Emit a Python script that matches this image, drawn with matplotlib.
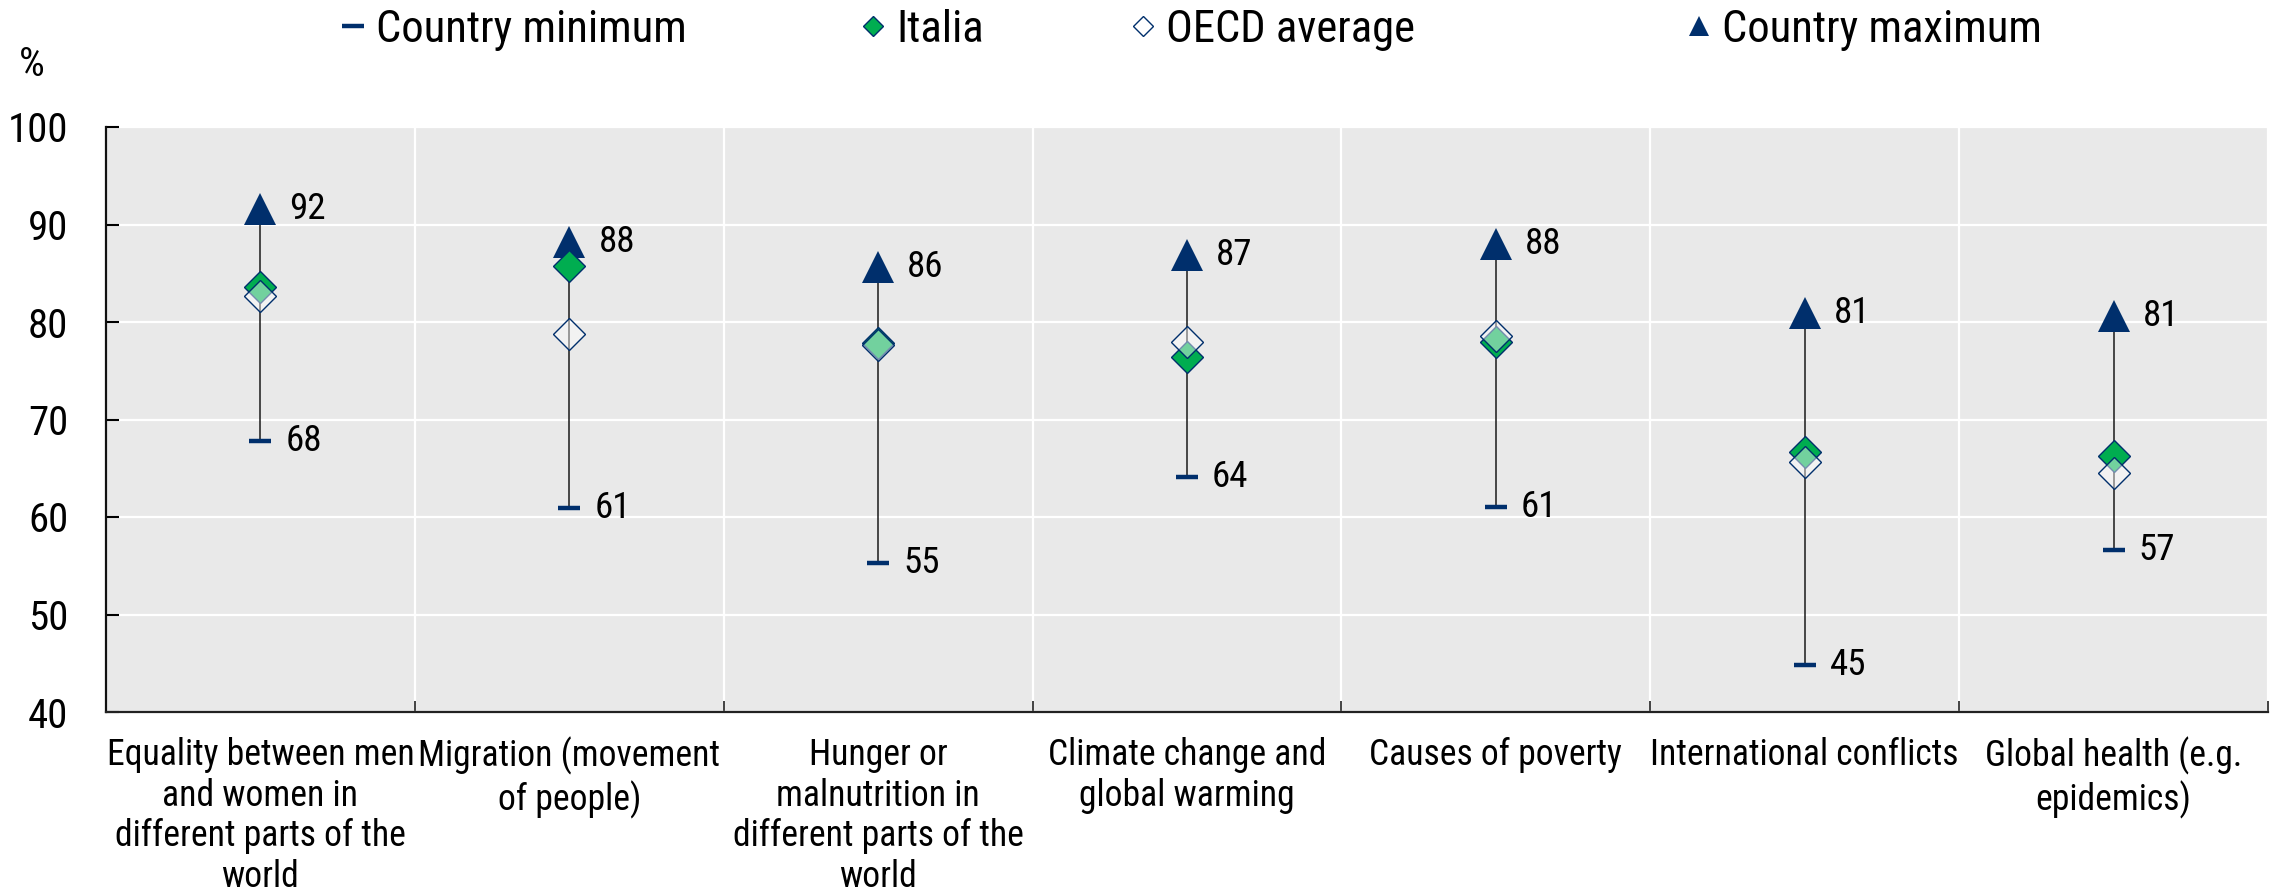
import matplotlib
matplotlib.use("Agg")
import matplotlib.pyplot as plt
from matplotlib import font_manager as fm
from matplotlib.font_manager import FontProperties
from matplotlib.textpath import TextPath
import numpy as np

# ---- data ----
categories = [
    "Equality between men\nand women in\ndifferent parts of the\nworld",
    "Migration (movement\nof people)",
    "Hunger or\nmalnutrition in\ndifferent parts of the\nworld",
    "Climate change and\nglobal warming",
    "Causes of poverty",
    "International conflicts",
    "Global health (e.g.\nepidemics)",
]
country_min = [67.8, 60.9, 55.3, 64.1, 61.0, 44.8, 56.6]
italia = [83.6, 85.7, 77.8, 76.4, 78.0, 66.7, 66.3]
oecd_avg = [82.7, 78.8, 77.6, 78.0, 78.6, 65.6, 64.5]
country_max = [91.6, 88.2, 85.6, 86.9, 88.0, 80.9, 80.6]
yticks = [40, 50, 60, 70, 80, 90, 100]

# ---- font: pick a narrow sans, size texts so widths match the reference ----
names = {f.name for f in fm.fontManager.ttflist}
FONT = "Liberation Sans"
for cand in ["Liberation Sans Narrow", "Arial Narrow", "Roboto Condensed",
             "Archivo Narrow", "PT Sans Narrow", "Fira Sans Condensed"]:
    if cand in names:
        FONT = cand
        break
plt.rcParams["font.family"] = [FONT, "DejaVu Sans"]
FP = FontProperties(family=FONT)


def size_for(text, target_px):
    w = TextPath((0, 0), text, size=100, prop=FP).get_extents().width  # points at 100pt
    return 100 * target_px * 0.72 / w


FS_LEG = size_for("Country minimum", 305)
FS_TICK = size_for("100", 55)
FS_CAT = size_for("Equality between men", 302)
FS_LAB = size_for("68", 32)
l_h = TextPath((0, 0), "l", size=100, prop=FP).get_extents().ymax  # points at 100pt
l_h_px = l_h / 100 * FS_CAT / 0.72
CAT_LS = 0.74 * 42 / l_h_px

NAVY = "#002F6C"
GREEN = "#00AD50"
BG = "#E9E9E9"

W, H = 2277, 891
fig = plt.figure(figsize=(W / 100, H / 100), dpi=100)
ax = fig.add_axes([106 / W, 1 - 712 / H, (2268 - 106) / W, (712 - 127) / H])
ax.set_facecolor(BG)

x = np.arange(len(categories))

# vertical range lines
ax.vlines(x, country_min, country_max, color="#1a1a1a", lw=1.1, zorder=3)

l_min, = ax.plot(x, country_min, ls="none", marker="_", ms=16.5, mew=3.2,
                 color=NAVY, zorder=4, label="Country minimum")
l_max, = ax.plot(x, country_max, ls="none", marker="^", ms=23.5, mew=0,
                 color=NAVY, zorder=4, label="Country maximum")
l_ita, = ax.plot(x, italia, ls="none", marker="D", ms=15.8, mew=1.0,
                 markerfacecolor=GREEN, markeredgecolor=NAVY, zorder=5, label="Italia")
l_oecd, = ax.plot(x, oecd_avg, ls="none", marker="D", ms=15.8, mew=1.0,
                  markerfacecolor=(1, 1, 1, 0.45), markeredgecolor=NAVY, zorder=6,
                  label="OECD average")

# data labels
for xi, v in zip(x, country_max):
    ax.annotate(f"{v:.0f}", (xi, v), xytext=(21, 0), textcoords="offset points",
                ha="left", va="center", fontsize=FS_LAB, color="black", zorder=7)
for xi, v in zip(x, country_min):
    ax.annotate(f"{v:.0f}", (xi, v), xytext=(18, 0), textcoords="offset points",
                ha="left", va="center", fontsize=FS_LAB, color="black", zorder=7)

# axes
ax.set_xlim(-0.5, len(categories) - 0.5)
ax.set_ylim(40, 100)
ax.set_yticks(yticks)
ax.set_yticklabels([str(t) for t in yticks])
ax.tick_params(axis="y", direction="in", length=9, width=1.5, pad=27,
               labelsize=FS_TICK, colors="black")

ax.set_xticks(np.arange(len(categories) + 1) - 0.5)
ax.set_xticklabels([])
ax.set_xticks(x, minor=True)
ax.set_xticklabels(categories, minor=True, fontsize=FS_CAT, linespacing=CAT_LS)
ax.tick_params(axis="x", which="major", direction="in", length=8, width=1.2,
               color="#222222")
ax.tick_params(axis="x", which="minor", length=0, pad=18)

ax.grid(axis="y", which="major", color="white", lw=1.6, zorder=0)
ax.grid(axis="x", which="major", color="white", lw=1.6, zorder=0)
ax.set_axisbelow(True)

for s in ["top", "right"]:
    ax.spines[s].set_visible(False)
ax.spines["left"].set_color("#111111")
ax.spines["left"].set_linewidth(1.6)
ax.spines["bottom"].set_color("#222222")
ax.spines["bottom"].set_linewidth(1.6)

fig.text(32 / W, 1 - 65 / H, "%", ha="center", va="center", fontsize=FS_TICK)

# legend: one entry per legend, positioned at the marker centre
fs_px = FS_LEG * 100 / 72
hl = 0.5
items = [(l_min, 353, 1.0), (l_ita, 873, 0.62), (l_oecd, 1143, 0.62), (l_max, 1699, 0.6)]
for h, xc, ms in items:
    left = xc - hl * fs_px / 2
    fig.legend(handles=[h], loc="center left",
               bbox_to_anchor=(left / W, 1 - 30 / H),
               frameon=False, fontsize=FS_LEG, handlelength=hl,
               handletextpad=12 / fs_px,
               borderpad=0, borderaxespad=0, markerscale=ms)

fig.savefig("out.png", dpi=100)
